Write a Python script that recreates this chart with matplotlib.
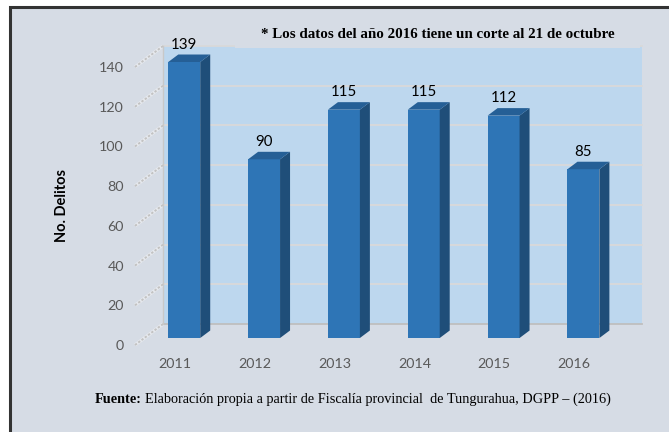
import matplotlib.pyplot as plt
from matplotlib.patches import Polygon, Rectangle

# data
years = ['2011', '2012', '2013', '2014', '2015', '2016']
delitos = [139, 90, 115, 115, 112, 85]
yticks = list(range(0, 141, 20))

nota = '* Los datos del año 2016 tiene un corte al 21 de octubre'
fuente_bold = 'Fuente:'
fuente_rest = 'Elaboración propia a partir de Fiscalía provincial  de Tungurahua, DGPP – (2016)'

# colours
PANEL = '#D6DCE5'
WALL = '#BDD7EE'
FRONT = '#2E75B6'
SIDE = '#1F4E79'
TOP = '#255F96'
GRID = '#D9D9D9'
TICK = '#595959'

plt.rcParams['font.family'] = ['Lato', 'DejaVu Sans']

W, H = 669, 432
fig = plt.figure(figsize=(W / 100, H / 100), dpi=100)
fig.patch.set_facecolor('white')

# panel with dark frame, cut off at right and bottom
fig.patches.append(Rectangle((9.5 / W, -0.05), 1.1, 1 - 6.5 / H + 0.05,
                             transform=fig.transFigure, facecolor=PANEL,
                             edgecolor='#333333', linewidth=2.2, zorder=-5))

# axes = front plane of the fake 3d box
ax = fig.add_axes([135 / W, (H - 345) / H, 479 / W, 278 / H])
ax.set_xlim(-0.5, 5.5)
ax.set_ylim(0, 140)
ax.patch.set_visible(False)
for s in ax.spines.values():
    s.set_visible(False)

# depth offset of the back wall (data units) and bar depth
DX, DY = 0.351, 10.57
d_front, d_back = 0.333, 0.69
bar_w = 0.40

# back wall
ax.add_patch(Rectangle((-0.5 + DX, DY), 6, 140, facecolor=WALL,
                       edgecolor='none', zorder=0, clip_on=False))
for v in yticks:
    ax.plot([-0.5 + DX, 5.5 + DX], [v + DY, v + DY], color=GRID if v else '#BFBFBF',
            lw=1.3, zorder=1, clip_on=False)
    # side wall lines (hatched look)
    ax.plot([-0.5, -0.5 + DX], [v, v + DY], color='#E6E9EE', lw=2.4,
            zorder=1, clip_on=False, solid_capstyle='butt')
    ax.plot([-0.5, -0.5 + DX], [v, v + DY], color='#C2C2C2', lw=1.4,
            ls=(0, (1.2, 0.9)), zorder=1, clip_on=False)
ax.plot([-0.5 + DX, -0.5 + DX], [DY, 140 + DY], color='#C8C8C8', lw=1, zorder=1, clip_on=False)

# bars: front via bar(), side and top faces as polygons
xs = [i + d_front * DX for i in range(len(years))]
y0 = d_front * DY
ax.bar(xs, delitos, width=bar_w, bottom=y0, color=FRONT, zorder=4, clip_on=False)
ddx = (d_back - d_front) * DX
ddy = (d_back - d_front) * DY
for x, v in zip(xs, delitos):
    xl, xr = x - bar_w / 2, x + bar_w / 2
    top = y0 + v
    ax.add_patch(Polygon([(xr, y0), (xr + ddx, y0 + ddy), (xr + ddx, top + ddy), (xr, top)],
                         closed=True, facecolor=SIDE, edgecolor='none', zorder=4, clip_on=False))
    ax.add_patch(Polygon([(xl, top), (xr, top), (xr + ddx, top + ddy), (xl + ddx, top + ddy)],
                         closed=True, facecolor=TOP, edgecolor='none', zorder=4, clip_on=False))
    ax.text(x, top + ddy + 1.5, str(v), ha='center', va='bottom', fontsize=10.8,
            color='black', zorder=6)

ax.set_xticks(range(len(years)), years)
ax.set_yticks(yticks)
ax.tick_params(axis='x', length=0, pad=9.5, labelsize=10.3, labelcolor=TICK)
ax.tick_params(axis='y', length=0, pad=8, labelsize=10.3, labelcolor=TICK)

fig.text(62 / W, (H - 206) / H, 'No. Delitos', rotation=90, ha='center', va='center',
         fontsize=10.5, fontweight='bold', color='black')

# note box on top of the wall
ax.add_patch(Rectangle((235 / W, 1 - 48 / H), 405 / W, 24 / H, transform=fig.transFigure,
                       facecolor=PANEL, edgecolor='none', zorder=3, clip_on=False))
ax.text(261 / W, 1 - 35 / H, nota, transform=fig.transFigure, ha='left', va='center',
        fontsize=10.8, fontweight='bold', family='Liberation Serif', zorder=6)

# source line: bold lead-in, then regular text on the same baseline
y_src = 1 - 403 / H
t1 = fig.text(95 / W, y_src, fuente_bold, ha='left', va='baseline', fontsize=10.3,
              fontweight='bold', family='Liberation Serif')
fig.canvas.draw()
x_end = t1.get_window_extent().x1
fig.text((x_end + 3) / W, y_src, fuente_rest, ha='left', va='baseline', fontsize=10.3,
         family='Liberation Serif')

fig.savefig('out.png', dpi=100)
